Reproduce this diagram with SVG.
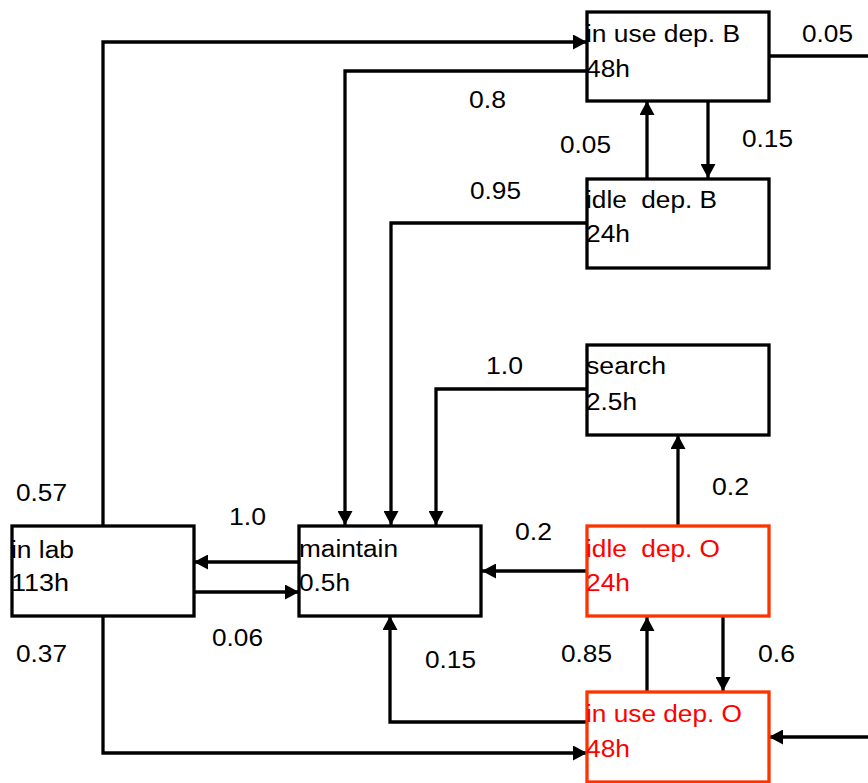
<svg xmlns="http://www.w3.org/2000/svg" width="868" height="783" viewBox="0 0 868 783">
<style>
  .box { fill: #ffffff; stroke: #000000; stroke-width: 3.3; }
  .box.red { stroke: #ff3300; }
  .t { font-family: "Liberation Sans", Arial, sans-serif; font-size: 23.5px; fill: #000000; white-space: pre; }
  .t.red { fill: #ff0000; }
  .c { fill: none; stroke: #000000; stroke-width: 3.3; stroke-linejoin: miter; }
  .ca { marker-end: url(#ah); }
</style>
<defs>
  <marker id="ah" markerUnits="userSpaceOnUse" markerWidth="15" markerHeight="15" refX="14" refY="7.5" orient="auto">
    <path d="M0,0 L14,7.5 L0,15 z" fill="#000000"/>
  </marker>
</defs>
<rect width="868" height="783" fill="#ffffff"/>

<g id="connectors">
  <path class="c ca" d="M103,526 V42 H587"/>
  <path class="c ca" d="M587,71 H345 V525"/>
  <path class="c" d="M769,56 H868"/>
  <path class="c ca" d="M647,178 V101"/>
  <path class="c ca" d="M708,101 V178"/>
  <path class="c ca" d="M587,223 H391 V525"/>
  <path class="c ca" d="M587,389 H436 V525"/>
  <path class="c ca" d="M678,525 V435"/>
  <path class="c ca" d="M587,571 H482"/>
  <path class="c ca" d="M299,562 H194"/>
  <path class="c ca" d="M194,592 H299"/>
  <path class="c ca" d="M103,616 V753 H587"/>
  <path class="c ca" d="M587,722 H390 V616"/>
  <path class="c ca" d="M647,691 V617"/>
  <path class="c ca" d="M723,617 V691"/>
  <path class="c ca" d="M868,737 H769"/>
</g>

<g id="labels">
  <text class="t" x="16" y="501" textLength="51" lengthAdjust="spacingAndGlyphs">0.57</text>
  <text class="t" x="16" y="662" textLength="51" lengthAdjust="spacingAndGlyphs">0.37</text>
  <text class="t" x="229" y="525" textLength="37" lengthAdjust="spacingAndGlyphs">1.0</text>
  <text class="t" x="212" y="646" textLength="51" lengthAdjust="spacingAndGlyphs">0.06</text>
  <text class="t" x="469" y="108" textLength="37" lengthAdjust="spacingAndGlyphs">0.8</text>
  <text class="t" x="470" y="199" textLength="51" lengthAdjust="spacingAndGlyphs">0.95</text>
  <text class="t" x="560" y="153" textLength="51" lengthAdjust="spacingAndGlyphs">0.05</text>
  <text class="t" x="742" y="147" textLength="51" lengthAdjust="spacingAndGlyphs">0.15</text>
  <text class="t" x="802" y="42" textLength="51" lengthAdjust="spacingAndGlyphs">0.05</text>
  <text class="t" x="486" y="374" textLength="37" lengthAdjust="spacingAndGlyphs">1.0</text>
  <text class="t" x="712" y="495" textLength="37" lengthAdjust="spacingAndGlyphs">0.2</text>
  <text class="t" x="515" y="540" textLength="37" lengthAdjust="spacingAndGlyphs">0.2</text>
  <text class="t" x="425" y="668" textLength="51" lengthAdjust="spacingAndGlyphs">0.15</text>
  <text class="t" x="561" y="662" textLength="51" lengthAdjust="spacingAndGlyphs">0.85</text>
  <text class="t" x="758" y="662" textLength="37" lengthAdjust="spacingAndGlyphs">0.6</text>
</g>

<g id="node-inuse-b">
  <rect class="box" x="587" y="12" width="182" height="89"/>
  <text class="t" x="586" y="42" textLength="154" lengthAdjust="spacingAndGlyphs">in use dep. B</text>
  <text class="t" x="586" y="77" textLength="44" lengthAdjust="spacingAndGlyphs">48h</text>
</g>
<g id="node-idle-b">
  <rect class="box" x="587" y="179" width="182" height="89"/>
  <text class="t" x="586" y="208" textLength="131" lengthAdjust="spacingAndGlyphs" xml:space="preserve">idle  dep. B</text>
  <text class="t" x="586" y="242" textLength="44" lengthAdjust="spacingAndGlyphs">24h</text>
</g>
<g id="node-search">
  <rect class="box" x="587" y="345" width="182" height="90"/>
  <text class="t" x="586" y="374" textLength="80" lengthAdjust="spacingAndGlyphs">search</text>
  <text class="t" x="586" y="410" textLength="51" lengthAdjust="spacingAndGlyphs">2.5h</text>
</g>
<g id="node-idle-o">
  <rect class="box red" x="587" y="526" width="182" height="90"/>
  <text class="t red" x="586" y="557" textLength="134" lengthAdjust="spacingAndGlyphs" xml:space="preserve">idle  dep. O</text>
  <text class="t red" x="586" y="591" textLength="44" lengthAdjust="spacingAndGlyphs">24h</text>
</g>
<g id="node-inuse-o">
  <rect class="box red" x="587" y="692" width="182" height="90"/>
  <text class="t red" x="586" y="722" textLength="156" lengthAdjust="spacingAndGlyphs">in use dep. O</text>
  <text class="t red" x="586" y="757" textLength="44" lengthAdjust="spacingAndGlyphs">48h</text>
</g>
<g id="node-maintain">
  <rect class="box" x="299" y="526" width="182" height="90"/>
  <text class="t" x="299" y="557" textLength="99" lengthAdjust="spacingAndGlyphs">maintain</text>
  <text class="t" x="299" y="591" textLength="51" lengthAdjust="spacingAndGlyphs">0.5h</text>
</g>
<g id="node-inlab">
  <rect class="box" x="12" y="526" width="182" height="90"/>
  <text class="t" x="11" y="558" textLength="63" lengthAdjust="spacingAndGlyphs">in lab</text>
  <text class="t" x="11" y="591" textLength="58" lengthAdjust="spacingAndGlyphs">113h</text>
</g>
</svg>
